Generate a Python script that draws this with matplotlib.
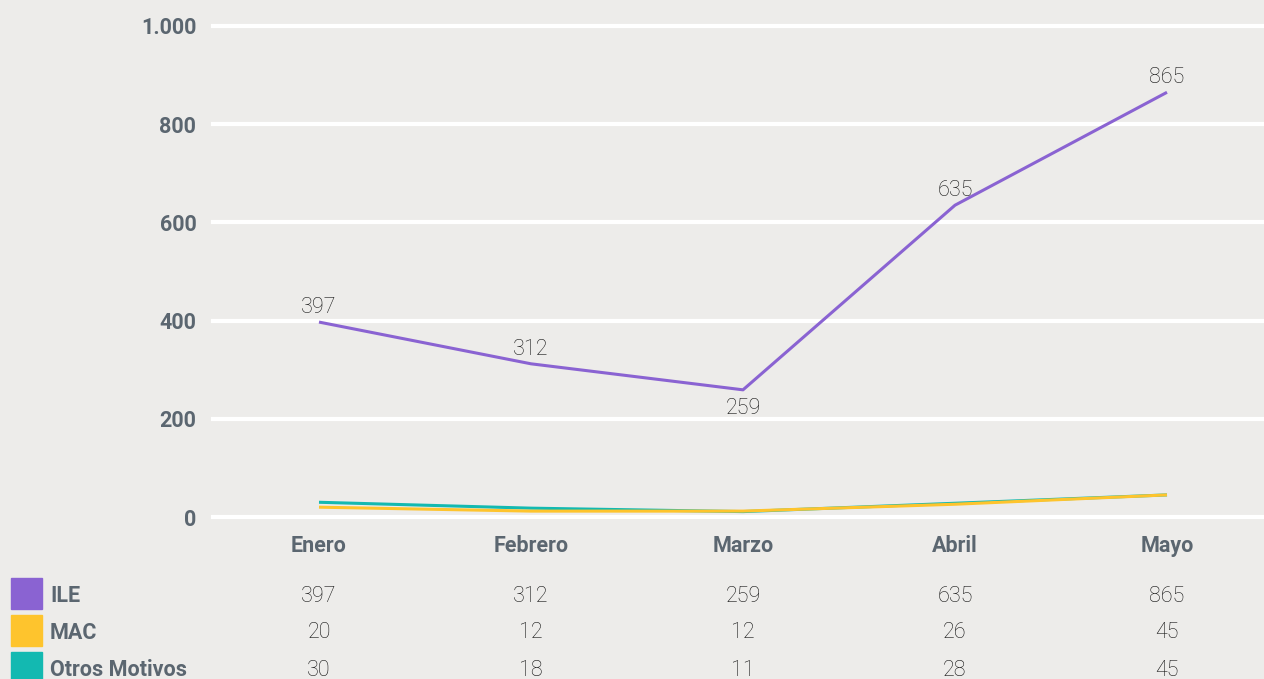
import matplotlib.pyplot as plt

# Data
months = ['Enero', 'Febrero', 'Marzo', 'Abril', 'Mayo']
ile = [397, 312, 259, 635, 865]
mac = [20, 12, 12, 26, 45]
otros = [30, 18, 11, 28, 45]
series_names = ['ILE', 'MAC', 'Otros Motivos']
colors = ['#8a63d2', '#fec42d', '#13b9b1']
yticks = [0, 200, 400, 600, 800, 1000]
ytick_labels = ['0', '200', '400', '600', '800', '1.000']

bg = '#edecea'
label_col = '#5b6670'
value_col = '#141414'
fs = 15.5

plt.rcParams['font.family'] = ['Roboto', 'DejaVu Sans']

W, H = 1264, 679
fig = plt.figure(figsize=(W / 100, H / 100), dpi=100, facecolor=bg)
ax = fig.add_axes([213 / W, 162 / H, 1060 / W, 491 / H])
ax.set_facecolor(bg)

x = list(range(len(months)))
# draw teal then yellow on top, purple last
ax.plot(x, otros, color=colors[2], lw=2.2, solid_capstyle='butt')
ax.plot(x, mac, color=colors[1], lw=2.2, solid_capstyle='butt')
ax.plot(x, ile, color=colors[0], lw=2.2, solid_capstyle='butt')

# value labels on ILE line
for i, v in enumerate(ile):
    if i == 2:
        ax.annotate(str(v), (i, v), xytext=(0, -6), textcoords='offset points',
                    ha='center', va='top', fontsize=fs, color=value_col, fontweight='light')
    else:
        ax.annotate(str(v), (i, v), xytext=(0, 3), textcoords='offset points',
                    ha='center', va='bottom', fontsize=fs, color=value_col, fontweight='light')

ax.set_xlim(-0.5, 4.5)
ax.set_ylim(0, 1000)
ax.set_yticks(yticks)
ax.set_yticklabels(ytick_labels)
ax.set_xticks(x)
ax.set_xticklabels(months)
ax.grid(axis='y', color='white', lw=3)
ax.set_axisbelow(True)
for s in ax.spines.values():
    s.set_visible(False)
ax.tick_params(length=0)
ax.tick_params(axis='y', pad=12, labelsize=fs, labelcolor=label_col)
ax.tick_params(axis='x', pad=13, labelsize=fs, labelcolor=label_col)
for t in ax.get_xticklabels() + ax.get_yticklabels():
    t.set_fontweight('bold')
for gl in ax.get_ygridlines():
    gl.set_clip_on(False)

# data table below the chart
rows = [ile, mac, otros]
row_y = [596, 633, 670]
for name, vals, col, py in zip(series_names, rows, colors, row_y):
    yf = 1 - py / H
    fig.patches.append(plt.Rectangle((11 / W, yf - 13 / H), 31 / W, 31 / H,
                                     transform=fig.transFigure, color=col))
    fig.text(50 / W, yf, name, ha='left', va='center', fontsize=fs,
             fontweight='bold', color=label_col)
    for i, v in enumerate(vals):
        xf = ax.transData.transform((i, 0))[0] / W
        fig.text(xf, yf, str(v), ha='center', va='center', fontsize=fs,
                 fontweight='light', color=value_col)

fig.savefig('out.png', dpi=100, facecolor=bg)
